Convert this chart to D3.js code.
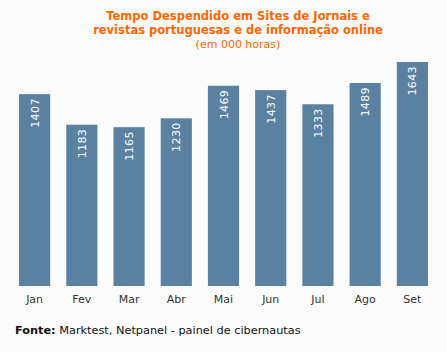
<!DOCTYPE html>
<html>
<head>
<meta charset="utf-8">
<script src="https://cdn.jsdelivr.net/npm/d3@7"></script>
<style>
  body { margin: 0; background: #fbfbfb; }
  svg { display: block; font-family: "DejaVu Sans", Verdana, sans-serif; }
</style>
</head>
<body>
<div id="chart"></div>
<script>
const months = ["Jan", "Fev", "Mar", "Abr", "Mai", "Jun", "Jul", "Ago", "Set"];
const hours = [1407, 1183, 1165, 1230, 1469, 1437, 1333, 1489, 1643];
const titleLines = ["Tempo Despendido em Sites de Jornais e", "revistas portuguesas e de informação online"];
const subtitle = "(em 000 horas)";

const width = 447, height = 352;
const baseY = 286, topY = 62;

const svg = d3.select("#chart").append("svg")
  .attr("width", width)
  .attr("height", height);

svg.append("rect").attr("width", width).attr("height", height).attr("fill", "#fbfbfb");

// ---- title ----
const title = svg.append("g").attr("text-anchor", "middle").attr("fill", "#ff6600");
titleLines.forEach((t, i) => {
  title.append("text")
    .attr("x", 238).attr("y", 20 + i * 14)
    .attr("font-size", 11.5).attr("font-weight", "bold")
    .text(t);
});
title.append("text")
  .attr("x", 238).attr("y", 48)
  .attr("font-size", 11)
  .text(subtitle);

// ---- scales ----
const x = d3.scaleBand()
  .domain(months)
  .range([11, 436])
  .paddingInner(0.34)
  .paddingOuter(0.17);

const y = d3.scaleLinear()
  .domain([0, d3.max(hours)])
  .range([baseY, topY]);

const data = months.map((m, i) => ({ month: m, value: hours[i] }));

// ---- bars ----
svg.selectAll("rect.bar")
  .data(data)
  .enter()
  .append("rect")
  .attr("class", "bar")
  .attr("x", d => x(d.month))
  .attr("y", d => y(d.value))
  .attr("width", x.bandwidth())
  .attr("height", d => baseY - y(d.value))
  .attr("fill", "#5b81a1");

// value labels, rotated inside bar tops
svg.selectAll("text.val")
  .data(data)
  .enter()
  .append("text")
  .attr("class", "val")
  .attr("transform", d => `translate(${x(d.month) + x.bandwidth() / 2 + 4},${y(d.value) + 4}) rotate(-90)`)
  .attr("text-anchor", "end")
  .attr("fill", "#ffffff")
  .attr("font-size", 11)
  .attr("letter-spacing", 0.4)
  .text(d => d.value);

// ---- x axis labels ----
const xAxis = d3.axisBottom(x).tickSize(0).tickPadding(9);
svg.append("g")
  .attr("transform", `translate(0,${baseY})`)
  .call(xAxis)
  .call(g => g.select(".domain").remove())
  .call(g => g.selectAll("text")
    .attr("font-family", "DejaVu Sans, Verdana, sans-serif")
    .attr("font-size", 11)
    .attr("fill", "#333"));

// ---- source ----
const src = svg.append("text")
  .attr("x", 15).attr("y", 334)
  .attr("font-size", 11.3)
  .attr("fill", "#111");
src.append("tspan").attr("font-weight", "bold").text("Fonte:");
src.append("tspan").text(" Marktest, Netpanel - painel de cibernautas");
</script>
</body>
</html>
